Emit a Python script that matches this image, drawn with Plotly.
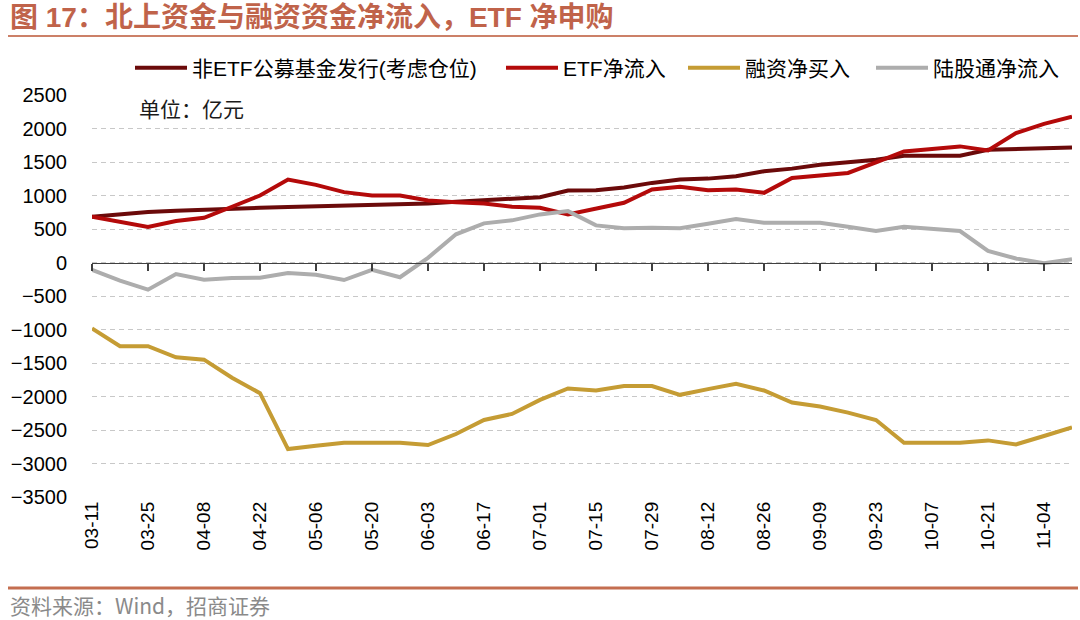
import plotly.graph_objects as go

dates = ["03-11", "03-18", "03-25", "04-01", "04-08", "04-15", "04-22", "04-29",
         "05-06", "05-13", "05-20", "05-27", "06-03", "06-10", "06-17", "06-24",
         "07-01", "07-08", "07-15", "07-22", "07-29", "08-05", "08-12", "08-19",
         "08-26", "09-02", "09-09", "09-16", "09-23", "09-30", "10-07", "10-14",
         "10-21", "10-28", "11-04", "11-11"]

non_etf_fund = [683, 718, 752, 772, 792, 802, 817, 827, 837, 842, 847, 860,
                881, 906, 926, 941, 975, 1074, 1079, 1119, 1188, 1238, 1252, 1287,
                1361, 1401, 1460, 1495, 1534, 1594, 1594, 1594, 1683, 1698, 1708, 1718]

etf_inflow = [683, 610, 530, 619, 668, 832, 1000, 1238, 1158, 1050, 1000, 1000,
              926, 901, 881, 832, 817, 718, 802, 891, 1089, 1129, 1079, 1089,
              1040, 1262, 1297, 1337, 1495, 1658, 1693, 1733, 1673, 1931, 2069, 2178]

margin_buy = [-985, -1250, -1250, -1415, -1450, -1720, -1950, -2785, -2735, -2690, -2690, -2690,
              -2725, -2560, -2350, -2260, -2050, -1880, -1910, -1845, -1845, -1975, -1890, -1810,
              -1910, -2090, -2150, -2240, -2350, -2690, -2690, -2690, -2655, -2715, -2590, -2460]

northbound = [-109, -272, -406, -173, -257, -233, -228, -158, -183, -262, -109, -220,
              70, 421, 584, 629, 718, 767, 554, 510, 520, 510, 579, 650,
              594, 594, 594, 535, 470, 535, 505, 470, 173, 59, -10, 50]

tick_labels = dates[0::2]
y_ticks = [2500, 2000, 1500, 1000, 500, 0, -500, -1000, -1500, -2000, -2500, -3000, -3500]

names = ["非ETF公募基金发行(考虑仓位)", "ETF净流入", "融资净买入", "陆股通净流入"]
colors = ["#6B0A0A", "#B40A0A", "#C59C34", "#ADADAD"]
series = [non_etf_fund, etf_inflow, margin_buy, northbound]
legend_ids = ["legend", "legend2", "legend3", "legend4"]
legend_x_px = [130, 501, 683, 871]

W, H = 1080, 620
L, R, T, B = 92, 8, 95, 123
pw, ph = W - L - R, H - T - B


def px(x):
    return (x - L) / pw


def py(y):
    return 1 - (y - T) / ph


fig = go.Figure()
for i in range(4):
    fig.add_trace(go.Scatter(x=dates, y=series[i], mode="lines", name=names[i],
                             line=dict(color=colors[i], width=4),
                             legend=legend_ids[i],
                             xaxis="x2" if i == 3 else "x"))

zero_pos = 3500 / 6000

legend_font = dict(size=21, family="Liberation Sans, Noto Sans CJK SC", color="#000000")
legend_common = dict(orientation="h", yanchor="middle", xanchor="left", y=py(68),
                     font=legend_font, itemwidth=52, bgcolor="rgba(0,0,0,0)")

layout_legends = {}
for lid, lx in zip(legend_ids, legend_x_px):
    layout_legends[lid] = dict(legend_common, x=px(lx))

fig.update_layout(
    width=W, height=H,
    margin=dict(l=L, r=R, t=T, b=B),
    paper_bgcolor="white", plot_bgcolor="white",
    font=dict(family="Liberation Sans, Arial, Noto Sans CJK SC", color="#000000"),
    showlegend=True,
    xaxis=dict(type="category", categoryorder="array", categoryarray=dates,
               range=[0, len(dates) - 1], showgrid=False, showline=False, zeroline=False,
               tickmode="array", tickvals=tick_labels, ticktext=tick_labels,
               tickangle=-90, ticks="", tickfont=dict(size=19, color="#000000")),
    xaxis2=dict(type="category", categoryorder="array", categoryarray=dates,
                range=[0, len(dates) - 1], overlaying="x", anchor="free", position=zero_pos,
                showgrid=False, showline=True, linecolor="#404040", linewidth=1.5,
                zeroline=False, tickmode="array", tickvals=tick_labels,
                ticks="outside", ticklen=7, tickwidth=1.5, tickcolor="#404040",
                showticklabels=False),
    yaxis=dict(range=[-3500, 2500], tickmode="array", tickvals=y_ticks,
               showgrid=True, gridcolor="#C8C8C8", gridwidth=1, griddash="5px,4px",
               zeroline=False, showline=False, ticks="", ticklabelstandoff=24,
               tickfont=dict(size=20, color="#000000")),
    **layout_legends,
)

title_color = "#C0634A"
fig.add_annotation(text="<b>图 17：北上资金与融资资金净流入，ETF 净申购</b>",
                   xref="paper", yref="paper", x=px(8), y=py(18),
                   xanchor="left", yanchor="middle", showarrow=False,
                   font=dict(size=28, color=title_color,
                             family="Liberation Sans, Noto Sans CJK SC"))
fig.add_annotation(text="单位：亿元", xref="paper", yref="paper", x=px(137), y=py(108),
                   xanchor="left", yanchor="middle", showarrow=False,
                   font=dict(size=21, color="#1a1a1a", family="Noto Sans CJK SC"))
fig.add_annotation(text="资料来源：Wind，招商证券", xref="paper", yref="paper",
                   x=px(8), y=py(605), xanchor="left", yanchor="middle", showarrow=False,
                   font=dict(size=21, color="#8A8A8A", family="Noto Sans CJK SC"))

fig.add_shape(type="line", xref="paper", yref="paper", x0=px(8), x1=px(1078),
              y0=py(36), y1=py(36), line=dict(color="#CC8068", width=2))
fig.add_shape(type="line", xref="paper", yref="paper", x0=px(8), x1=px(1078),
              y0=py(588), y1=py(588), line=dict(color="#C46E50", width=3))

fig.write_html("out.html", config={"displayModeBar": False, "staticPlot": True},
               post_script="document.body.style.margin='0';document.body.style.overflow='hidden';")
